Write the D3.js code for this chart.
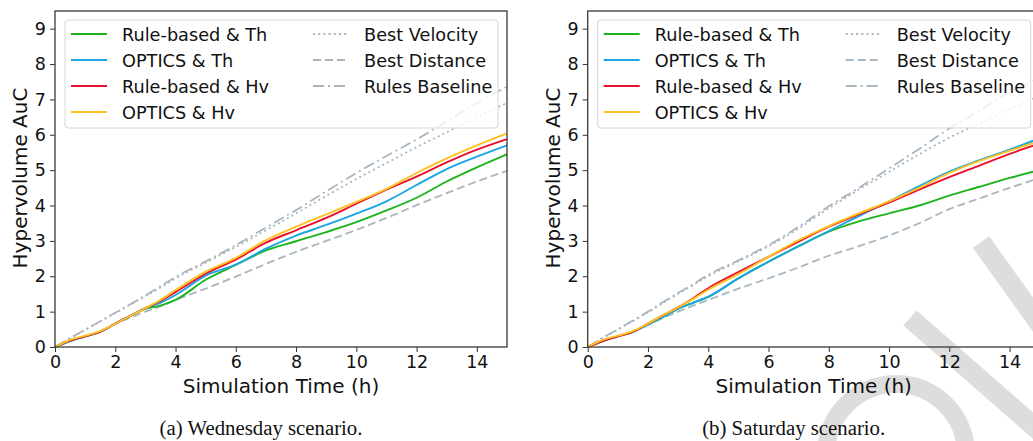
<!DOCTYPE html>
<html>
<head>
<meta charset="utf-8">
<script src="https://cdn.jsdelivr.net/npm/d3@7"></script>
<style>
  body { margin: 0; background: #fff; }
  svg { display: block; }
</style>
</head>
<body>
<svg id="chart" width="1033" height="441"></svg>
<script>
// time points (h) shared by every series
var times = [0, 0.5, 1, 1.5, 2, 2.5, 3, 3.5, 4, 5, 6, 7, 8, 9, 10, 11, 12, 13, 14, 15];

var seriesNames = ['Rule-based & Th', 'OPTICS & Th', 'Rule-based & Hv', 'OPTICS & Hv',
                   'Best Velocity', 'Best Distance', 'Rules Baseline'];

// (a) Wednesday
var wedRuleTh  = [0, 0.17, 0.3, 0.43, 0.66, 0.88, 1.08, 1.17, 1.33, 1.9, 2.32, 2.73, 2.99, 3.25, 3.53, 3.86, 4.22, 4.68, 5.08, 5.45];
var wedOpticsTh = [0, 0.17, 0.3, 0.43, 0.66, 0.88, 1.1, 1.25, 1.47, 2.02, 2.33, 2.78, 3.15, 3.45, 3.77, 4.12, 4.58, 5.03, 5.38, 5.7];
var wedRuleHv  = [0, 0.18, 0.3, 0.43, 0.66, 0.88, 1.1, 1.3, 1.55, 2.07, 2.47, 2.95, 3.3, 3.65, 4.05, 4.45, 4.82, 5.22, 5.58, 5.88];
var wedOpticsHv = [0, 0.2, 0.32, 0.45, 0.66, 0.88, 1.1, 1.33, 1.61, 2.13, 2.52, 3.02, 3.4, 3.75, 4.1, 4.47, 4.92, 5.33, 5.7, 6.04];
var wedBestVel  = [0, 0.24, 0.48, 0.72, 0.96, 1.2, 1.44, 1.68, 1.94, 2.38, 2.83, 3.3, 3.78, 4.27, 4.75, 5.2, 5.65, 6.07, 6.5, 6.9];
var wedBestDist = [0, 0.17, 0.3, 0.45, 0.66, 0.83, 1.0, 1.15, 1.33, 1.65, 1.99, 2.35, 2.69, 3.0, 3.31, 3.65, 4.01, 4.35, 4.68, 4.98];
var wedBaseline = [0, 0.25, 0.49, 0.73, 0.97, 1.21, 1.46, 1.72, 1.98, 2.42, 2.88, 3.38, 3.87, 4.4, 4.92, 5.4, 5.87, 6.38, 6.9, 7.36];

// (b) Saturday
var satRuleTh  = [0, 0.17, 0.3, 0.43, 0.63, 0.85, 1.08, 1.25, 1.42, 1.94, 2.41, 2.85, 3.26, 3.55, 3.78, 4.0, 4.28, 4.53, 4.78, 5.0];
var satOpticsTh = [0, 0.17, 0.3, 0.43, 0.63, 0.85, 1.08, 1.25, 1.42, 1.94, 2.41, 2.85, 3.28, 3.7, 4.12, 4.55, 4.96, 5.28, 5.58, 5.9];
var satRuleHv  = [0, 0.17, 0.3, 0.43, 0.66, 0.9, 1.12, 1.38, 1.66, 2.12, 2.55, 2.98, 3.4, 3.75, 4.08, 4.45, 4.8, 5.13, 5.46, 5.75];
var satOpticsHv = [0, 0.2, 0.32, 0.45, 0.66, 0.9, 1.12, 1.36, 1.62, 2.06, 2.55, 3.02, 3.42, 3.78, 4.12, 4.5, 4.92, 5.26, 5.55, 5.82];
var satBestVel  = [0, 0.25, 0.49, 0.73, 0.98, 1.24, 1.5, 1.75, 2.0, 2.42, 2.85, 3.35, 3.92, 4.45, 4.95, 5.45, 5.92, 6.32, 6.72, 7.1];
var satBestDist = [0, 0.17, 0.3, 0.45, 0.63, 0.82, 1.0, 1.17, 1.33, 1.65, 1.94, 2.25, 2.58, 2.85, 3.15, 3.5, 3.9, 4.2, 4.5, 4.78];
var satBaseline = [0, 0.26, 0.5, 0.75, 1.0, 1.27, 1.53, 1.78, 2.04, 2.45, 2.88, 3.4, 3.98, 4.5, 5.05, 5.6, 6.18, 6.68, 7.2, 7.6];

var xTicks = [0, 2, 4, 6, 8, 10, 12, 14];
var yTicks = [0, 1, 2, 3, 4, 5, 6, 7, 8, 9];

var colors = ['#1db31d', '#1aa6e6', '#ea1030', '#ffc31f', '#a9b5bf', '#a9b5bf', '#a9b5bf'];
var dashes = [null, null, null, null, '2,3.2', '8,4', '11,4,2,4'];

var svg = d3.select('#chart');
var font = 'DejaVu Sans, sans-serif';

// watermark, drawn first so it sits behind the plot
var wm = svg.append('g').attr('fill', 'none').attr('stroke', '#dddddd').attr('stroke-width', 20);
wm.append('line').attr('x1', 981).attr('y1', 242).attr('x2', 1080).attr('y2', 380);
wm.append('line').attr('x1', 910).attr('y1', 318).attr('x2', 1070).attr('y2', 458);
wm.append('circle').attr('cx', 896).attr('cy', 454).attr('r', 70).attr('stroke-width', 18);

function panel(left, values, caption) {
    var margin = { top: 11, left: left },
        width = 452,
        height = 336;

    var g = svg.append('g').attr('transform', 'translate(' + margin.left + ',' + margin.top + ')');

    var x = d3.scaleLinear().domain([0, 15]).range([0, width]);
    var y = d3.scaleLinear().domain([0, 9.5]).range([height, 0]);

    // x axis
    var xa = g.append('g')
        .attr('transform', 'translate(0,' + height + ')')
        .call(d3.axisBottom(x).tickValues(xTicks).tickSize(5).tickPadding(4).tickFormat(d3.format('d')));
    xa.select('.domain').remove();
    xa.selectAll('line').attr('stroke', '#333').attr('stroke-width', 1);
    xa.selectAll('text').attr('font-family', font).attr('font-size', 17.5).attr('fill', '#111');

    // y axis
    var ya = g.append('g')
        .call(d3.axisLeft(y).tickValues(yTicks).tickSize(5).tickPadding(4).tickFormat(d3.format('d')));
    ya.select('.domain').remove();
    ya.selectAll('line').attr('stroke', '#333').attr('stroke-width', 1);
    ya.selectAll('text').attr('font-family', font).attr('font-size', 17.5).attr('fill', '#111');

    // lines
    var line = d3.line()
        .x(function(d, i) { return x(times[i]); })
        .y(function(d) { return y(d); })
        .curve(d3.curveMonotoneX);

    var order = [6, 5, 4, 0, 1, 2, 3];
    order.forEach(function(k) {
        g.append('path')
            .datum(values[k])
            .attr('fill', 'none')
            .attr('stroke', colors[k])
            .attr('stroke-width', k < 4 ? 1.9 : 1.8)
            .attr('stroke-dasharray', dashes[k])
            .attr('d', line);
    });

    // frame
    g.append('rect')
        .attr('width', width).attr('height', height)
        .attr('fill', 'none').attr('stroke', '#3a3a3a').attr('stroke-width', 1.3);

    // legend
    var lg = g.append('g').attr('transform', 'translate(10,9)');
    lg.append('rect')
        .attr('width', 433).attr('height', 108).attr('rx', 3)
        .attr('fill', '#fff').attr('fill-opacity', 0.8)
        .attr('stroke', '#d6d6d6').attr('stroke-width', 1);
    seriesNames.forEach(function(name, k) {
        var col = k < 4 ? 0 : 1;
        var row = k < 4 ? k : k - 4;
        var lx = col === 0 ? 6 : 248;
        var ly = 14 + row * 26;
        lg.append('line')
            .attr('x1', lx).attr('x2', lx + 36)
            .attr('y1', ly).attr('y2', ly)
            .attr('stroke', colors[k]).attr('stroke-width', 2)
            .attr('stroke-dasharray', dashes[k]);
        lg.append('text')
            .attr('x', lx + 51).attr('y', ly + 6.5)
            .attr('font-family', font).attr('font-size', 17.7).attr('fill', '#111')
            .text(name);
    });

    // axis titles
    g.append('text')
        .attr('x', width / 2).attr('y', height + 46)
        .attr('text-anchor', 'middle')
        .attr('font-family', font).attr('font-size', 20).attr('fill', '#111')
        .text('Simulation Time (h)');
    g.append('text')
        .attr('transform', 'translate(-28,' + (height / 2 - 1) + ') rotate(-90)')
        .attr('text-anchor', 'middle')
        .attr('font-family', font).attr('font-size', 20).attr('fill', '#111')
        .text('Hypervolume AuC');

    // caption
    svg.append('text')
        .attr('x', left + 206).attr('y', 435)
        .attr('text-anchor', 'middle')
        .attr('font-family', 'Liberation Serif, serif').attr('font-size', 20.8).attr('fill', '#111')
        .text(caption);
}

panel(55, [wedRuleTh, wedOpticsTh, wedRuleHv, wedOpticsHv, wedBestVel, wedBestDist, wedBaseline], '(a) Wednesday scenario.');
panel(587.7, [satRuleTh, satOpticsTh, satRuleHv, satOpticsHv, satBestVel, satBestDist, satBaseline], '(b) Saturday scenario.');
</script>
</body>
</html>
